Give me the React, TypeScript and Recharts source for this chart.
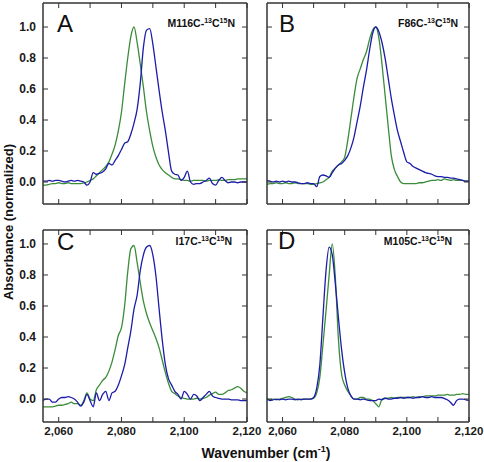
import { LineChart, Line, XAxis, YAxis } from "recharts";

// wavenumber grid (cm-1), shared by all four panels
const wavenumbers = [
  2055, 2056, 2057, 2058, 2059, 2060, 2061, 2062, 2063, 2064,
  2065, 2066, 2067, 2068, 2069, 2070, 2071, 2072, 2073, 2074,
  2075, 2076, 2077, 2078, 2079, 2080, 2081, 2082, 2083, 2084,
  2085, 2086, 2087, 2088, 2089, 2090, 2091, 2092, 2093, 2094,
  2095, 2096, 2097, 2098, 2099, 2100, 2101, 2102, 2103, 2104,
  2105, 2106, 2107, 2108, 2109, 2110, 2111, 2112, 2113, 2114,
  2115, 2116, 2117, 2118, 2119, 2120,
];

const panelLetters = ["A", "B", "C", "D"];
const sampleNames = ["M116C", "F86C", "I17C", "M105C"];
const xTicks = [2060, 2070, 2080, 2090, 2100, 2110, 2120];
const yTicks = [0, 0.2, 0.4, 0.6, 0.8, 1.0];

const greenA = [
  -0.02, -0.02, -0.015, -0.01, -0.01, -0.005, -0.01, -0.01, -0.005, -0.01,
  -0.01, -0.01, -0.01, -0.005, 0.0, 0.01, 0.02, 0.04, 0.06, 0.08,
  0.1, 0.13, 0.18, 0.24, 0.33, 0.45, 0.63, 0.8, 0.94, 1.0,
  0.9, 0.76, 0.61, 0.45, 0.33, 0.23, 0.16, 0.11, 0.08, 0.06,
  0.045, 0.03, 0.02, 0.02, 0.015, 0.01, 0.01, 0.005, 0.01, 0.01,
  0.01, 0.01, 0.005, 0.01, 0.01, 0.01, 0.015, 0.01, 0.01, 0.015,
  0.015, 0.015, 0.02, 0.02, 0.02, 0.02,
];
const blueA = [
  0.005, 0.005, 0.01, 0.005, 0.01, 0.01, 0.005, 0.0, 0.005, 0.01,
  0.005, 0.01, 0.005, 0.0, -0.02, 0.0, 0.06, 0.05, 0.055, 0.065,
  0.085, 0.12, 0.11, 0.14, 0.17, 0.21, 0.25, 0.26, 0.31, 0.38,
  0.47, 0.64, 0.87, 0.98, 0.99, 0.89, 0.74, 0.59, 0.45, 0.33,
  0.19, 0.07, 0.05, 0.045, 0.01, 0.03, 0.07, 0.0, -0.015, -0.01,
  -0.01, 0.0, 0.01, 0.025, -0.01, -0.02, 0.01, 0.03, 0.01, -0.005,
  0.0, 0.0, -0.005, 0.0, 0.0, 0.0,
];

const greenB = [
  -0.015, -0.01, -0.01, -0.005, -0.01, -0.01, -0.005, -0.01, -0.01, -0.005,
  -0.01, -0.01, -0.01, -0.01, -0.015, -0.015, -0.01, -0.005, 0.0, 0.015,
  0.03, 0.07, 0.09, 0.11, 0.13, 0.16, 0.27, 0.41, 0.55, 0.67,
  0.73, 0.79, 0.84, 0.92, 0.98, 1.0, 0.93, 0.76, 0.56, 0.36,
  0.17, 0.08, 0.035, 0.0, -0.01, -0.01, -0.01, -0.01, -0.01, -0.005,
  -0.005, 0.0, 0.005, 0.01, 0.01, 0.015, 0.01, 0.02, 0.015, 0.01,
  0.015, 0.01, 0.01, 0.01, 0.005, 0.005,
];
const blueB = [
  0.01, 0.005, 0.0, 0.005, 0.0, 0.005, 0.0, 0.005, 0.0, 0.0,
  -0.005, -0.01, -0.01, -0.005, -0.01, -0.01, -0.03, 0.035, 0.045, 0.04,
  0.03, 0.06, 0.09, 0.11, 0.12, 0.14, 0.17, 0.22, 0.29, 0.39,
  0.49, 0.61, 0.72, 0.85, 0.96, 1.0, 0.97, 0.9, 0.8, 0.67,
  0.54, 0.43, 0.33, 0.26, 0.19, 0.13, 0.12, 0.1, 0.09, 0.08,
  0.07, 0.06, 0.055, 0.05, 0.04, 0.035, 0.035, 0.03, 0.03, 0.025,
  0.025, 0.02, 0.015, 0.01, 0.005, 0.005,
];

const greenC = [
  -0.05, -0.05, -0.05, -0.05, -0.045, -0.04, -0.04, -0.035, -0.03, -0.02,
  -0.03, -0.03, -0.04, -0.01, 0.04, 0.0, -0.01, 0.06, 0.09, 0.12,
  0.14, 0.18, 0.24, 0.32, 0.41, 0.46, 0.6, 0.82, 0.97, 0.99,
  0.88, 0.75, 0.63, 0.55, 0.49, 0.44, 0.39, 0.33, 0.25, 0.17,
  0.1, 0.05, 0.035, 0.02, 0.01, 0.005, 0.0, 0.0, 0.0, 0.005,
  0.0, 0.005, 0.01, 0.025, 0.035, 0.045, 0.03, 0.03, 0.04, 0.055,
  0.06, 0.07, 0.08, 0.07, 0.05, 0.04,
];
const blueC = [
  -0.01, 0.0, 0.0, -0.02, -0.02, 0.0, 0.01, 0.01, 0.015, 0.01,
  0.0, -0.02, -0.045, -0.02, 0.03, -0.01, -0.05, 0.04, -0.01, 0.03,
  0.05, -0.01, 0.04, 0.05, 0.09, 0.15, 0.22, 0.33, 0.44, 0.58,
  0.67, 0.83, 0.93, 0.98, 0.99, 0.93, 0.79, 0.58, 0.38, 0.22,
  0.13, 0.09, 0.05, 0.03, 0.0, 0.05, 0.03, 0.0, 0.03, 0.02,
  -0.01, 0.01, 0.03, 0.05, 0.02, 0.01, 0.005, 0.0, 0.0, 0.0,
  -0.005, -0.005, -0.005, -0.01, -0.01, -0.01,
];

const greenD = [
  0.0, -0.005, 0.0, -0.005, 0.0, 0.005, 0.01, 0.015, 0.01, 0.0,
  -0.005, 0.0, 0.0, 0.0, 0.0, 0.005, 0.04, 0.14, 0.35, 0.57,
  0.8, 1.0, 0.78, 0.38, 0.16, 0.09, 0.05, 0.02, 0.0, 0.0,
  0.01, 0.01, 0.0, 0.0, -0.01, -0.03, -0.05, 0.0, 0.005, 0.005,
  0.01, 0.005, 0.01, 0.01, 0.01, 0.01, 0.01, 0.015, 0.01, 0.015,
  0.015, 0.02, 0.02, 0.02, 0.02, 0.025, 0.025, 0.025, 0.03, 0.025,
  0.025, 0.03, 0.03, 0.035, 0.03, 0.03,
];
const blueD = [
  0.0, -0.01, -0.005, 0.0, -0.005, 0.0, -0.005, 0.0, 0.0, -0.005,
  0.0, -0.005, 0.0, 0.0, 0.0, 0.01, 0.07, 0.22, 0.53, 0.83,
  0.98, 0.93, 0.74, 0.52, 0.32, 0.17, 0.07, 0.02, 0.0, 0.0,
  -0.005, 0.0, -0.005, -0.01, -0.01, -0.01, 0.0, -0.005, 0.005, 0.0,
  0.0, 0.005, 0.005, 0.01, 0.005, 0.01, 0.01, 0.005, 0.01, 0.01,
  0.015, 0.01, 0.01, 0.015, 0.01, 0.01, 0.01, 0.005, -0.005, -0.02,
  -0.04, -0.01, 0.0, 0.0, -0.005, -0.01,
];

const greens = [greenA, greenB, greenC, greenD];
const blues = [blueA, blueB, blueC, blueD];

const FONT = '"Liberation Sans", Arial, Helvetica, sans-serif';
const GREEN = "#3a8c3a";
const BLUE = "#1c1caa";
const FRAME = "#333";
const X_DOMAIN: [number, number] = [2055, 2120];

// plot-area boxes (page pixels)
const LAYOUT = [
  { left: 43, top: 3, w: 204, h: 201, yDomain: [-0.142, 1.155], showX: false, showY: true },
  { left: 267, top: 3, w: 202, h: 201, yDomain: [-0.142, 1.155], showX: false, showY: false },
  { left: 43, top: 230, w: 204, h: 192, yDomain: [-0.148, 1.09], showX: true, showY: true },
  { left: 267, top: 230, w: 202, h: 192, yDomain: [-0.148, 1.09], showX: true, showY: false },
];

const fmtWave = (v: number) => `${Math.floor(v / 1000)},${String(v % 1000).padStart(3, "0")}`;

const tickStyle = { fill: "#1a1a1a", fontSize: 12, fontWeight: 700, fontFamily: FONT };
const axisLine = { stroke: FRAME, strokeWidth: 1.5 };
const tickLine = { stroke: FRAME, strokeWidth: 1 };

function Panel({ i }: { i: number }) {
  const p = LAYOUT[i];
  const data = wavenumbers.map((w, k) => ({ w, g: greens[i][k], b: blues[i][k] }));
  const padL = 43;
  const padT = 3;
  const padR = 15;
  const padB = 24;
  return (
    <div style={{ position: "absolute", left: p.left - padL, top: p.top - padT }}>
      <LineChart
        width={p.w + padL + padR}
        height={p.h + padT + padB}
        data={data}
        margin={{ top: 2, right: padR - 1, bottom: 0, left: 0 }}
      >
        <XAxis
          xAxisId="b"
          dataKey="w"
          type="number"
          domain={X_DOMAIN}
          ticks={xTicks}
          interval={0}
          allowDataOverflow
          height={padB}
          tickSize={-5}
          tickMargin={10}
          axisLine={axisLine}
          tickLine={tickLine}
          tick={{ ...tickStyle, fontSize: 11.5 }}
          tickFormatter={(v: number) => (p.showX && v % 20 === 0 ? fmtWave(v) : "")}
        />
        <XAxis
          xAxisId="t"
          orientation="top"
          dataKey="w"
          type="number"
          domain={X_DOMAIN}
          ticks={xTicks}
          interval={0}
          allowDataOverflow
          height={1}
          tickSize={-5}
          axisLine={axisLine}
          tickLine={tickLine}
          tickFormatter={() => ""}
        />
        <YAxis
          yAxisId="l"
          type="number"
          domain={p.yDomain}
          ticks={yTicks}
          interval={0}
          allowDataOverflow
          width={padL}
          tickSize={-5}
          tickMargin={12}
          axisLine={axisLine}
          tickLine={tickLine}
          tick={tickStyle}
          tickFormatter={(v: number) => (p.showY ? v.toFixed(1) : "")}
        />
        <YAxis
          yAxisId="r"
          orientation="right"
          type="number"
          domain={p.yDomain}
          ticks={yTicks}
          interval={0}
          allowDataOverflow
          width={1}
          tickSize={-5}
          axisLine={axisLine}
          tickLine={tickLine}
          tickFormatter={() => ""}
        />
        <Line xAxisId="b" yAxisId="l" type="monotone" dataKey="g" stroke={GREEN} strokeWidth={1.3} dot={false} isAnimationActive={false} />
        <Line xAxisId="b" yAxisId="l" type="monotone" dataKey="b" stroke={BLUE} strokeWidth={1.3} dot={false} isAnimationActive={false} />
      </LineChart>
    </div>
  );
}

// label anchors (page pixels)
const LETTER_POS = [
  { x: 57, y: 31.5 },
  { x: 279, y: 31.5 },
  { x: 57, y: 250 },
  { x: 278, y: 249 },
];
const NAME_POS = [
  { x: 235, y: 27 },
  { x: 458, y: 27 },
  { x: 232, y: 244.5 },
  { x: 452, y: 244.5 },
];

export default function App() {
  return (
    <div
      style={{
        position: "absolute",
        left: 0,
        top: 0,
        width: 484,
        height: 462,
        overflow: "hidden",
        background: "#fff",
        fontFamily: FONT,
      }}
    >
      {[0, 1, 2, 3].map((i) => (
        <Panel key={i} i={i} />
      ))}
      <svg width={484} height={462} style={{ position: "absolute", left: 0, top: 0, pointerEvents: "none" }}>
        {panelLetters.map((t, i) => (
          <text key={t} x={LETTER_POS[i].x} y={LETTER_POS[i].y} fontSize={24} fontFamily={FONT} fill="#111">
            {t}
          </text>
        ))}
        {sampleNames.map((t, i) => (
          <text
            key={t}
            x={NAME_POS[i].x}
            y={NAME_POS[i].y}
            fontSize={10.5}
            fontWeight={700}
            fontFamily={FONT}
            fill="#111"
            textAnchor="end"
          >
            {t}-
            <tspan dy={-4} fontSize={7}>13</tspan>
            <tspan dy={4} fontSize={10.5}>C</tspan>
            <tspan dy={-4} fontSize={7}>15</tspan>
            <tspan dy={4} fontSize={10.5}>N</tspan>
          </text>
        ))}
        <text
          x={8}
          y={222}
          transform="rotate(-90, 8, 222)"
          textAnchor="middle"
          dominantBaseline="central"
          fontSize={13}
          fontWeight={700}
          fontFamily={FONT}
          fill="#111"
        >
          Absorbance (normalized)
        </text>
        <text x={266} y={458} textAnchor="middle" fontSize={14} fontWeight={700} fontFamily={FONT} fill="#111">
          Wavenumber (cm
          <tspan dy={-6} fontSize={9}>-1</tspan>
          <tspan dy={6} fontSize={14}>)</tspan>
        </text>
      </svg>
    </div>
  );
}
